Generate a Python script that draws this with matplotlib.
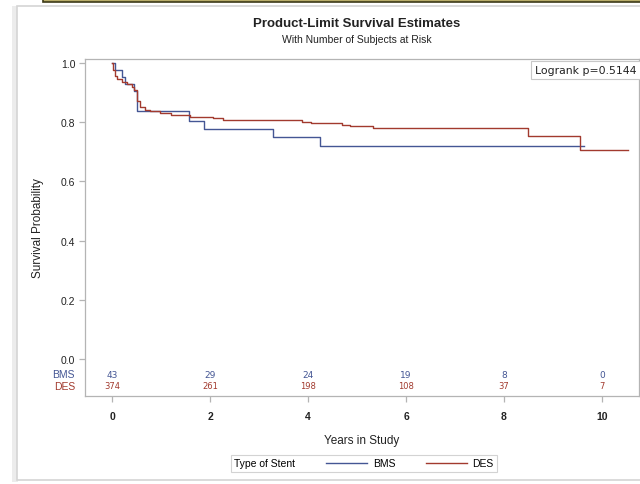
import numpy as np
import matplotlib
matplotlib.use('Agg')
import matplotlib.pyplot as plt
from matplotlib.lines import Line2D
from matplotlib.patches import Rectangle

plt.rcParams['font.family'] = ['Liberation Sans Narrow', 'Liberation Sans', 'DejaVu Sans']

# survival curves (time in years, survival prob.)
bms_t = [0.0, 0.07, 0.20, 0.27, 0.45, 0.52, 1.57, 1.88, 3.29, 4.24, 9.63]
bms_s = [1.0, 0.977, 0.953, 0.930, 0.907, 0.837, 0.805, 0.778, 0.749, 0.718, 0.718]

des_t = [0.0, 0.03, 0.06, 0.10, 0.20, 0.30, 0.40, 0.45, 0.50, 0.52, 0.58, 0.68,
         0.78, 0.98, 1.20, 1.60, 1.80, 2.06, 2.27, 2.50, 3.87, 4.07, 4.69, 4.86,
         5.32, 8.49, 9.56, 10.53]
des_s = [1.0, 0.975, 0.955, 0.945, 0.935, 0.928, 0.920, 0.910, 0.890, 0.870, 0.852, 0.842,
         0.837, 0.830, 0.825, 0.819, 0.816, 0.813, 0.809, 0.806, 0.799, 0.796, 0.790, 0.788,
         0.779, 0.755, 0.706, 0.706]

risk_times = [0, 2, 4, 6, 8, 10]
bms_risk = [43, 29, 24, 19, 8, 0]
des_risk = [374, 261, 198, 108, 37, 7]

blue = '#445694'
red = '#A23A2E'
grey = '#b4b4b4'
txt = '#222222'

W, H = 640, 485
fig = plt.figure(figsize=(6.4, 4.85), dpi=100)

# page decoration (panel frame and the bar on top)
fig.patches.append(Rectangle((12 / W, 1 - 483 / H), 6 / W, 476 / H, transform=fig.transFigure,
                             facecolor='#ececec', edgecolor='none', zorder=0))
fig.patches.append(Rectangle((16.5 / W, 1 - 481 / H), 630 / W, 474 / H, transform=fig.transFigure,
                             facecolor='white', edgecolor='#d4d4d4', lw=1.2, zorder=1))
fig.patches.append(Rectangle((43 / W, 1 - 3 / H), 600 / W, 4 / H, transform=fig.transFigure,
                             facecolor='#b9ad6a', edgecolor='#3d3a18', lw=1.2, zorder=1))

ax = fig.add_axes([85 / W, 1 - 397 / H, 554 / W, 337 / H])
ax.set_zorder(2)
ax.step(bms_t, bms_s, where='post', color=blue, lw=1.0)
ax.step(des_t, des_s, where='post', color=red, lw=1.0)

ax.set_xlim(-27 / 49, 527 / 49)
ax.set_ylim(-37 / 296, 1 + 4 / 296)
ax.set_yticks([0.0, 0.2, 0.4, 0.6, 0.8, 1.0])
ax.set_yticklabels(['0.0', '0.2', '0.4', '0.6', '0.8', '1.0'])
ax.set_xticks(risk_times)
ax.set_xticklabels([str(t) for t in risk_times], fontweight='bold')
for s in ax.spines.values():
    s.set_color(grey)
    s.set_linewidth(0.9)
ax.tick_params(colors=grey, labelcolor=txt, labelsize=7.5, length=4, width=0.9, pad=3)
ax.tick_params(axis='x', pad=7)

ax.set_xlabel('Years in Study', fontsize=8.5, color=txt, labelpad=9)
ax.set_ylabel('Survival Probability', fontsize=8.5, color=txt, labelpad=12)

# number at risk rows
tr = ax.get_xaxis_transform()
for t, nb, nd in zip(risk_times, bms_risk, des_risk):
    ax.text(t, 0.065, str(nb), transform=tr, ha='center', va='center', fontsize=6.5,
            color=blue, family='DejaVu Sans')
    ax.text(t, 0.030, str(nd), transform=tr, ha='center', va='center', fontsize=6,
            color=red, family='DejaVu Sans')
fig.text(75 / W, 1 - 375 / H, 'BMS', ha='right', va='center', fontsize=7.5, color=blue)
fig.text(75 / W, 1 - 387 / H, 'DES', ha='right', va='center', fontsize=7.5, color=red)

ax.text(0.996, 0.982, 'Logrank p=0.5144', transform=ax.transAxes, ha='right', va='top',
        fontsize=7.8, color=txt, family='DejaVu Sans',
        bbox=dict(boxstyle='square,pad=0.4', facecolor='white', edgecolor='#c8c8c8', lw=0.8))

fig.text(357 / W, 1 - 24 / H, 'Product-Limit Survival Estimates', ha='center', va='center',
         fontsize=9.5, fontweight='bold', color=txt)
fig.text(357 / W, 1 - 40 / H, 'With Number of Subjects at Risk', ha='center', va='center',
         fontsize=7.5, color=txt)

handles = [Line2D([], [], color=blue, lw=1.0), Line2D([], [], color=red, lw=1.0)]
leg = fig.legend(handles, ['BMS', 'DES'], title='Type of Stent', ncol=2,
                 loc='center', bbox_to_anchor=(364 / W, 1 - 464.5 / H),
                 fontsize=7.5, title_fontsize=7.5, handlelength=4.0, handletextpad=0.5,
                 columnspacing=1.4, borderpad=0.35, frameon=True, fancybox=False)
leg.get_frame().set_edgecolor('#c8c8c8')
leg.get_frame().set_linewidth(0.8)
# put the title on the left of the entries, like the SAS legend
box = leg.get_children()[0]
title_box = box.get_children()[0]
entries = box.get_children()[1]
box._children = [entries]
entries._children = [title_box] + entries.get_children()
entries.sep = 22

fig.savefig('out.png', dpi=100)
